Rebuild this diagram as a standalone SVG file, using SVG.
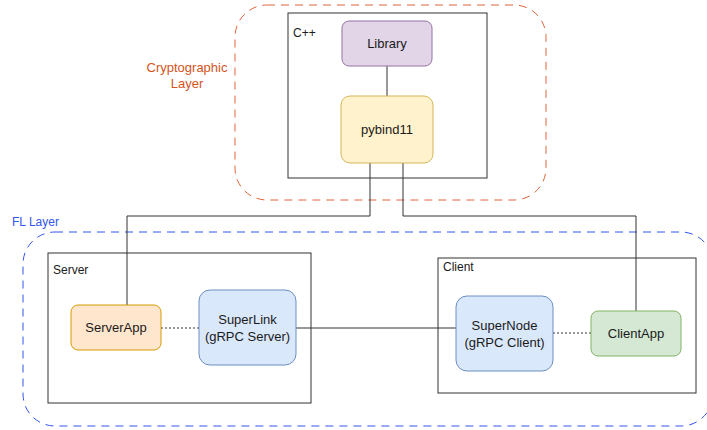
<svg xmlns="http://www.w3.org/2000/svg" width="707" height="430" viewBox="0 0 707 430">
<style>
text{font-family:"Liberation Sans",Arial,sans-serif;font-size:13px;fill:#1a1a1a}
.lbl{font-size:12px}
.c{text-anchor:middle}
.box{fill:none;stroke:#333;stroke-width:1}
.node{stroke-width:1}
.conn{fill:none;stroke:#333;stroke-width:1}
.dot{stroke-dasharray:2 2}
</style>
<rect width="707" height="430" fill="#fff"/>
<g id="crypto-layer">
<rect x="235" y="5" width="311" height="195" rx="32" fill="none" stroke="#e0643c" stroke-dasharray="8 6"/>
<text class="c" x="187" y="72" style="fill:#d4541c">Cryptographic</text>
<text class="c" x="187" y="88" style="fill:#d4541c">Layer</text>
</g>
<g id="fl-layer">
<rect x="23" y="232" width="690" height="194" rx="32" fill="none" stroke="#3355ee" stroke-dasharray="8 6"/>
<text class="lbl" x="12" y="226" style="fill:#3355ee">FL Layer</text>
</g>
<g id="cpp">
<rect class="box" x="288" y="13" width="199" height="165"/>
<text class="lbl" x="293" y="37">C++</text>
</g>
<g id="server">
<rect class="box" x="48" y="253" width="263" height="150"/>
<text class="lbl" x="53" y="274">Server</text>
</g>
<g id="client">
<rect class="box" x="438" y="258" width="258" height="135"/>
<text class="lbl" x="443" y="271">Client</text>
</g>
<g id="connectors">
<line class="conn" x1="387" y1="66" x2="387" y2="96"/>
<polyline class="conn" points="370,163 370,216 127,216 127,305"/>
<polyline class="conn" points="403,163 403,216 636,216 636,311"/>
<line class="conn dot" x1="161" y1="328" x2="199" y2="328"/>
<line class="conn" x1="296" y1="328" x2="456" y2="328"/>
<line class="conn dot" x1="553" y1="333" x2="591" y2="333"/>
</g>
<g id="library">
<rect class="node" x="342" y="21" width="90" height="45" rx="7" fill="#e1d5e7" stroke="#9673a6"/>
<text class="c" x="387" y="48">Library</text>
</g>
<g id="pybind11">
<rect class="node" x="341" y="96" width="92" height="67" rx="9" fill="#fff2cc" stroke="#d6b656"/>
<text class="c" x="387" y="134">pybind11</text>
</g>
<g id="serverapp">
<rect class="node" x="71" y="305" width="90" height="45" rx="7" fill="#ffe6cc" stroke="#d79b00"/>
<text class="c" x="116" y="332">ServerApp</text>
</g>
<g id="superlink">
<rect class="node" x="199" y="290" width="97" height="75" rx="11" fill="#dae8fc" stroke="#6c8ebf"/>
<text class="c" x="247.5" y="324">SuperLink</text>
<text class="c" x="247.5" y="341">(gRPC Server)</text>
</g>
<g id="supernode">
<rect class="node" x="456" y="296" width="97" height="75" rx="11" fill="#dae8fc" stroke="#6c8ebf"/>
<text class="c" x="504.5" y="330">SuperNode</text>
<text class="c" x="504.5" y="347">(gRPC Client)</text>
</g>
<g id="clientapp">
<rect class="node" x="591" y="311" width="90" height="45" rx="7" fill="#d5e8d4" stroke="#82b366"/>
<text class="c" x="636" y="338">ClientApp</text>
</g>
</svg>
